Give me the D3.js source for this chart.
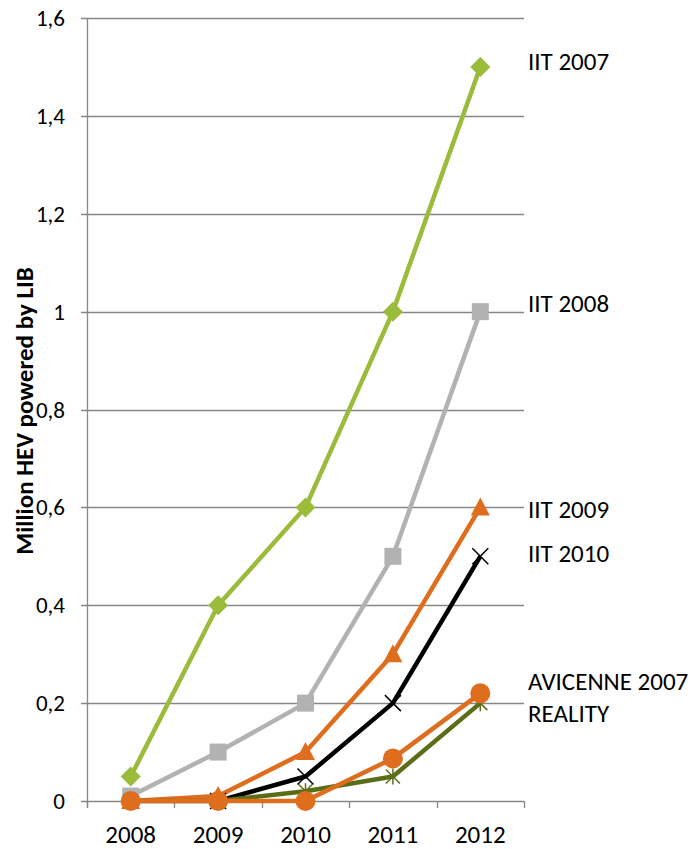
<!DOCTYPE html>
<html><head><meta charset="utf-8">
<script src="https://cdn.jsdelivr.net/npm/d3@7"></script>
<style>body{margin:0;background:#fff}svg{display:block}text{font-family:Carlito,"Open Sans","Liberation Sans",sans-serif}</style>
</head><body>
<script>
const years = ["2008","2009","2010","2011","2012"];
const seriesNames = ["IIT 2007","IIT 2008","IIT 2009","IIT 2010","AVICENNE 2007","REALITY"];
const iit2007 = [0.05,0.4,0.6,1.0,1.5];
const iit2008 = [0.01,0.1,0.2,0.5,1.0];
const iit2009 = [0,0.01,0.1,0.3,0.6];
const iit2010 = [null,0,0.05,0.2,0.5];
const reality = [0,0,0.02,0.05,0.2];
const avicenne = [0,0,0,0.087,0.22];
const yTicks = [0,0.2,0.4,0.6,0.8,1,1.2,1.4,1.6];
const yTickLabels = ["0","0,2","0,4","0,6","0,8","1","1,2","1,4","1,6"];
const yTitle = "Million HEV powered by LIB";

const W=700,H=849;
const svg=d3.select("body").append("svg").attr("width",W).attr("height",H);
const x=d3.scaleBand().domain(years).range([87,524]);
const y=d3.scaleLinear().domain([0,1.6]).range([801,18]);
const cx=d=>x(d)+x.bandwidth()/2;

svg.append("g").selectAll("line").data(yTicks).join("line")
 .attr("x1",81).attr("x2",524).attr("y1",d=>Math.round(y(d))+0.5).attr("y2",d=>Math.round(y(d))+0.5)
 .attr("stroke","#868686").attr("stroke-width",1.3);
svg.append("line").attr("x1",87.5).attr("x2",87.5).attr("y1",y(1.6)).attr("y2",y(0)+6).attr("stroke","#868686").attr("stroke-width",1.3);
const xb=years.map(d=>x(d)).concat([524]);
svg.append("g").selectAll("line").data(xb).join("line")
 .attr("x1",d=>Math.round(d)+0.5).attr("x2",d=>Math.round(d)+0.5).attr("y1",y(0)).attr("y2",y(0)+7)
 .attr("stroke","#868686").attr("stroke-width",1.3);
svg.append("g").selectAll("text").data(yTicks).join("text")
 .attr("x",65).attr("y",d=>y(d)).attr("dy","0.35em").attr("text-anchor","end")
 .attr("font-size",23).attr("fill","#000").text((d,i)=>yTickLabels[i]);
svg.append("g").selectAll("text").data(years).join("text")
 .attr("x",d=>cx(d)).attr("y",843).attr("text-anchor","middle").attr("font-size",25).text(d=>d);
svg.append("text").attr("transform","translate(33,411) rotate(-90)").attr("text-anchor","middle")
 .attr("font-size",25).attr("font-weight","bold").text(yTitle);

const series=[
 {name:seriesNames[0],vals:iit2007,color:"#9BBB3B",marker:"diamond"},
 {name:seriesNames[1],vals:iit2008,color:"#B2B2B2",marker:"square"},
 {name:seriesNames[2],vals:iit2009,color:"#DE6E1E",marker:"triangle"},
 {name:seriesNames[3],vals:iit2010,color:"#000000",marker:"x"},
 {name:seriesNames[5],vals:reality,color:"#5B6E17",marker:"star"},
 {name:seriesNames[4],vals:avicenne,color:"#DE6E1E",marker:"circle"}
];
const line=d3.line().defined(d=>d.v!=null).x(d=>cx(d.k)).y(d=>y(d.v));
series.forEach(s=>{
  const pts=years.map((k,i)=>({k,v:s.vals[i]}));
  const g=svg.append("g");
  g.append("path").attr("d",line(pts)).attr("fill","none").attr("stroke",s.color).attr("stroke-width",4.5).attr("stroke-linejoin","round");
  pts.filter(p=>p.v!=null).forEach(p=>{
    const px=cx(p.k),py=y(p.v);
    if(s.marker==="diamond"){
      g.append("path").attr("d",`M${px},${py-10}L${px+10},${py}L${px},${py+10}L${px-10},${py}Z`).attr("fill",s.color);
    } else if(s.marker==="square"){
      g.append("rect").attr("x",px-8.5).attr("y",py-8.5).attr("width",17).attr("height",17).attr("fill",s.color);
    } else if(s.marker==="triangle"){
      g.append("path").attr("d",`M${px},${py-10}L${px+9.5},${py+8}L${px-9.5},${py+8}Z`).attr("fill",s.color);
    } else if(s.marker==="x"){
      g.append("path").attr("d",`M${px-8},${py-8}L${px+8},${py+8}M${px-8},${py+8}L${px+8},${py-8}`).attr("stroke",s.color).attr("stroke-width",1.5);
    } else if(s.marker==="star"){
      g.append("path").attr("d",`M${px-7},${py-7}L${px+7},${py+7}M${px-7},${py+7}L${px+7},${py-7}M${px},${py-8}L${px},${py+8}`).attr("stroke",s.color).attr("stroke-width",1.5);
    } else if(s.marker==="circle"){
      g.append("circle").attr("cx",px).attr("cy",py).attr("r",10).attr("fill",s.color);
    }
  });
});
const labels=[
 {t:seriesNames[0],yy:61},{t:seriesNames[1],yy:303},{t:seriesNames[2],yy:509},
 {t:seriesNames[3],yy:553},{t:seriesNames[4],yy:681},{t:seriesNames[5],yy:713}
];
svg.append("g").selectAll("text").data(labels).join("text")
 .attr("x",528).attr("y",d=>d.yy).attr("dy","0.35em").attr("font-size",25).text(d=>d.t);
</script>
</body></html>
